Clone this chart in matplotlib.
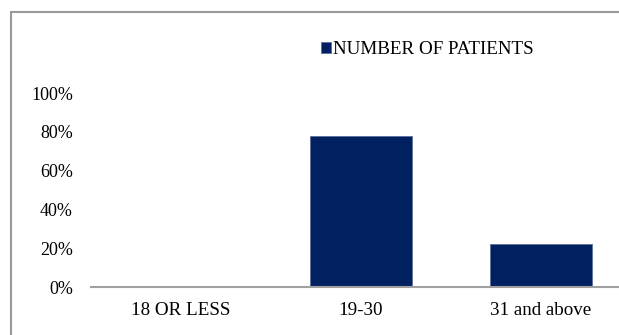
import matplotlib
matplotlib.use("Agg")
import matplotlib.pyplot as plt
from matplotlib.patches import Rectangle
import numpy as np

categories = ["18 OR LESS", "19-30", "31 and above"]
patients_pct = [0, 78, 22]
yticks = [0, 20, 40, 60, 80, 100]
series_label = "NUMBER OF PATIENTS"

plt.rcParams["font.family"] = ["Liberation Serif", "DejaVu Serif"]

W, H = 619, 335
fig = plt.figure(figsize=(W / 100, H / 100), dpi=100)
# axes extends past the right edge like the cropped original
ax = fig.add_axes([91 / W, 1 - 287 / H, 540 / W, 194 / H])

x = np.arange(len(categories))
ax.bar(x, patients_pct, width=0.57, color="#002060", edgecolor="#5b6f9c",
       linewidth=0.6, label=series_label, zorder=2)

ax.set_xlim(-0.5, 2.5)
ax.set_ylim(0, 100)
ax.set_yticks(yticks)
ax.set_yticklabels([f"{v}%" for v in yticks], fontsize=13)
ax.set_xticks(x)
ax.set_xticklabels(categories, fontsize=13.7)
ax.tick_params(length=0)
ax.tick_params(axis="y", pad=13)
ax.tick_params(axis="x", pad=11)

for s in ["top", "right", "left"]:
    ax.spines[s].set_visible(False)
ax.spines["bottom"].set_color("#a0a0a0")
ax.spines["bottom"].set_linewidth(1.5)

ax.legend(loc="center left", bbox_to_anchor=(321 / W, 1 - 50 / H),
          bbox_transform=fig.transFigure, frameon=False, fontsize=13.7,
          handlelength=0.5, handleheight=0.5, handletextpad=0.15,
          borderpad=0, borderaxespad=0)

# outer chart border (cropped at right and bottom)
fig.patches.append(Rectangle((11 / W, -0.2), 1.2, 1.2 - 11.7 / H,
                             transform=fig.transFigure, fill=False,
                             edgecolor="#9a9a9a", linewidth=1.5))

fig.savefig("out.png", dpi=100)
